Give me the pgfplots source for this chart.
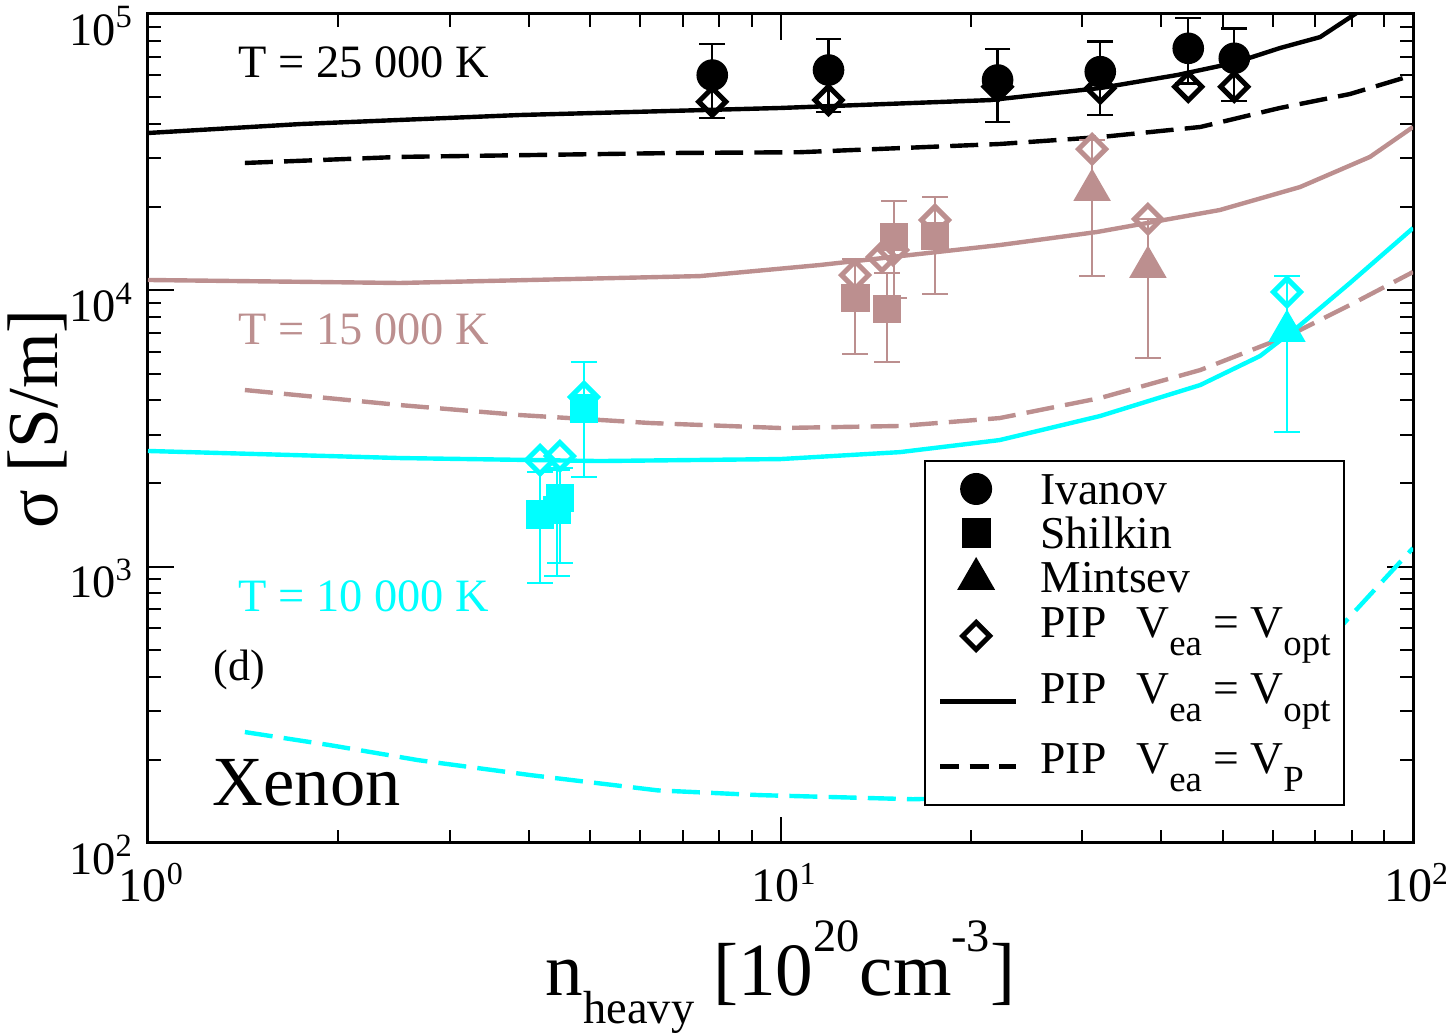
\documentclass[border=0pt]{standalone}
\usepackage{pgfplots}
\pgfplotsset{compat=1.18}
\usepackage{fontspec}
\setmainfont{Liberation Serif}
\definecolor{rbrown}{RGB}{188,143,143}
\definecolor{cy}{RGB}{0,255,255}
\newcommand\lsub[1]{\raisebox{-4.5pt}{\fontsize{9.2}{9.2}\selectfont #1}}
\pgfplotsset{
  mlegA/.style={legend image code/.code={\draw[##1] plot coordinates {(9pt,4pt)};}},
  mlegT/.style={legend image code/.code={\draw[##1] plot coordinates {(9pt,3.5pt)};}},
  mlegB/.style={legend image code/.code={\draw[##1] plot coordinates {(9pt,0.5pt)};}},
  llegB/.style={legend image code/.code={\draw[##1] (0pt,0.5pt) -- (19pt,0.5pt);}},
  llegC/.style={legend image code/.code={\draw[##1] (0pt,1.75pt) -- (19pt,1.75pt);}},
  errb/.style={forget plot, line width=0.6pt, mark=-, mark size=3.2pt, mark options={solid, line width=0.6pt}, unbounded coords=jump}
}
\begin{document}
\begin{tikzpicture}
\begin{axis}[
  scale only axis, width=316.25pt, height=207.25pt,
  xmode=log, ymode=log, xmin=1, xmax=100, ymin=100, ymax=100000,
  xtick={1,10,100},
  xticklabels={10\textsuperscript{0},10\textsuperscript{1},10\textsuperscript{2}},
  ytick={100,1000,10000,100000},
  yticklabels={10\textsuperscript{2},10\textsuperscript{3},10\textsuperscript{4},10\textsuperscript{5}},
  minor xtick={2,3,4,5,6,7,8,9,20,30,40,50,60,70,80,90},
  minor ytick={200,300,400,500,600,700,800,900,2000,3000,4000,5000,6000,7000,8000,9000,20000,30000,40000,50000,60000,70000,80000,90000},
  major tick length=6.5pt, minor tick length=3.3pt,
  every tick/.style={line width=0.5pt, black},
  axis line style={line width=0.75pt},
  yticklabel style={font=\fontsize{11.6}{13}\selectfont, yshift=-3pt},
  xticklabel style={font=\fontsize{12}{13}\selectfont, yshift=-1.5pt, xshift=1pt},
  xlabel={n\raisebox{-7.2pt}{\fontsize{11.6}{11}\selectfont heavy} [10\raisebox{11pt}{\fontsize{11.6}{11}\selectfont 20}cm\raisebox{11pt}{\fontsize{11.6}{11}\selectfont -3}]},
  xlabel style={at={(axis description cs:0.5,-0.1834)}, anchor=base, inner sep=0pt, font=\fontsize{18.8}{20}\selectfont},
  ylabel={σ [S/m]},
  ylabel style={at={(axis description cs:-0.0719,0.5115)}, anchor=base, inner sep=0pt, font=\fontsize{17.9}{20}\selectfont},
  legend style={at={(rel axis cs:0.946,0.462)}, anchor=north east, draw=black, line width=0.5pt,
    font=\fontsize{11.4}{13}\selectfont, row sep=0pt, column sep=5.5pt,
    inner xsep=3.3pt, inner ysep=2.5pt, nodes={inner sep=0pt, text depth=0pt}, cells={anchor=base west}},
]
\coordinate (bl) at (rel axis cs:0,0);
\coordinate (tr) at (rel axis cs:1,1);

% ---------- legend images ----------
\addlegendimage{only marks, mark=*, black, mark size=3.75pt, mlegA}
\addlegendentry{\rule{0pt}{8.5pt}Ivanov}
\addlegendimage{only marks, mark=square*, black, mark size=3.4pt, mlegA}
\addlegendentry{\rule{0pt}{11pt}Shilkin}
\addlegendimage{only marks, mark=triangle*, black, mark size=5pt, mlegT}
\addlegendentry{\rule{0pt}{11pt}Mintsev}
\addlegendimage{only marks, mark=square, black, mark size=2.4pt, mark options={rotate=45, fill=white, line width=1.25pt}, mlegB}
\addlegendentry{\rule{0pt}{11.25pt}PIP\hspace{7.5pt}V\lsub{ea} = V\lsub{opt}}
\addlegendimage{black, line width=1.2pt, llegB}
\addlegendentry{\rule{0pt}{13.45pt}PIP\hspace{7.5pt}V\lsub{ea} = V\lsub{opt}}
\addlegendimage{black, line width=1.2pt, dash pattern=on 4.8pt off 2.6pt, llegC}
\addlegendentry{\rule{0pt}{17.5pt}PIP\hspace{7.5pt}V\lsub{ea} = V\lsub{P}}
\addlegendimage{empty legend}
\addlegendentry{\rule{0pt}{5.25pt}}

% ---------- T = 25000 K ----------
\addplot[forget plot, black, line width=1.1pt] table {
1 37100
1.739 39970
3.874 43100
10 45700
21.44 48800
32.1 54000
42.4 60150
52.1 66500
61.6 75300
71.3 82500
81 100000
90 118000
};
\addplot[forget plot, black, line width=1.1pt, dash pattern=on 7pt off 2.8pt] table {
1.423 28900
2.502 30400
6.94 31420
10.7 31600
22.2 33850
32.1 35880
46.1 39000
61.6 45700
79.5 51330
100 60100
};
% ---------- T = 15000 K ----------
\addplot[forget plot, rbrown, line width=1.1pt] table {
1 10900
2.50 10630
7.46 11260
11.55 12350
22.2 14580
31.65 16260
49.5 19530
66.3 23650
85.5 30400
100 39000
};
\addplot[forget plot, rbrown, line width=1.1pt, dash pattern=on 7pt off 2.8pt] table {
1.423 4357
2.50 3845
3.874 3537
6.22 3310
10 3175
15.45 3229
22.2 3449
32.0 4075
46.1 5147
63.9 6888
79.5 8847
100 11650
};
% ---------- T = 10000 K ----------
\addplot[forget plot, cy, line width=1.1pt] table {
1 2622
2.50 2472
5.18 2411
10 2451
15.45 2597
22.2 2871
32.0 3508
46.1 4543
57.3 5784
66.3 7486
79.5 10630
100 16800
};
\addplot[forget plot, cy, line width=1.1pt, dash pattern=on 7pt off 2.8pt] table {
1.423 252
1.94 226
2.673 199.5
4.03 176
6.40 155
9.28 149
16.2 144
22.2 146.6
32.0 166
46.1 217
61.6 343
78.6 641
100 1168
};

% ---------- error bars (low / high ends) ----------
\addplot[errb, black] table {
7.80 42000
7.80 77900
7.80 nan
11.91 44300
11.91 81200
11.91 nan
22.04 40600
22.04 74700
22.04 nan
32.03 43100
32.03 79400
32.03 nan
44.12 56000
44.12 96700
44.12 nan
52.17 48400
52.17 88750
};
\addplot[errb, rbrown] table {
13.12 5882
13.12 12990
13.12 nan
14.74 5502
14.74 11550
14.74 nan
15.12 9380
15.12 21040
15.12 nan
17.55 9695
17.55 21760
17.55 nan
31.09 11260
31.09 34990
31.09 nan
38.1 5689
38.1 18110
};
\addplot[errb, cy] table {
4.167 872
4.167 2200
4.167 nan
4.433 925
4.433 2235
4.433 nan
4.48 1030
4.48 2275
4.48 nan
4.89 2114
4.89 5515
4.89 nan
63.2 3070
63.2 11260
};

% ---------- experimental data ----------
\addplot[forget plot, only marks, mark=*, black, mark size=3.75pt] table {
7.80 60100
11.91 62700
22.04 57700
32.03 61830
44.12 75130
52.17 69140
};
\addplot[forget plot, only marks, mark=square*, rbrown, mark size=3.4pt] table {
13.12 9380
14.74 8560
15.12 15600
17.55 15730
};
\addplot[forget plot, only marks, mark=triangle*, rbrown, mark size=5pt] table {
31.09 23070
38.1 12150
};
\addplot[forget plot, only marks, mark=square*, cy, mark size=3.4pt] table {
4.167 1549
4.433 1604
4.48 1772
4.89 3740
};
\addplot[forget plot, only marks, mark=triangle*, cy, mark size=5pt] table {
63.2 7122
};
% PIP diamonds
\addplot[forget plot, only marks, mark=square, black, mark size=2.4pt, mark options={rotate=45, fill=white, line width=1.25pt}] table {
7.80 48150
11.91 48840
22.04 54560
32.03 53840
44.12 54560
52.17 54560
};
\addplot[forget plot, only marks, mark=square, rbrown, mark size=2.4pt, mark options={rotate=45, fill=white, line width=1.25pt}] table {
13.12 11360
14.47 13200
15.06 13990
17.55 17960
31.09 32450
38.1 18110
};
\addplot[forget plot, only marks, mark=square, cy, mark size=2.4pt, mark options={rotate=45, fill=white, line width=1.25pt}] table {
4.167 2430
4.48 2513
4.89 4109
63.2 9860
};

% ---------- annotations ----------
\node[anchor=base west, inner sep=0pt, font=\fontsize{11.6}{14}\selectfont, black] at (rel axis cs:0.0711,0.9228) {T = 25 000 K};
\node[anchor=base west, inner sep=0pt, font=\fontsize{11.6}{14}\selectfont, text=rbrown] at (rel axis cs:0.0711,0.6019) {T = 15 000 K};
\node[anchor=base west, inner sep=0pt, font=\fontsize{11.6}{14}\selectfont, text=cy] at (rel axis cs:0.0711,0.2787) {T = 10 000 K};
\node[anchor=base west, inner sep=0pt, font=\fontsize{11}{12}\selectfont, black] at (rel axis cs:0.0514,0.1966) {(d)};
\node[anchor=base west, inner sep=0pt, font=\fontsize{17.6}{19}\selectfont, black] at (rel axis cs:0.0506,0.0458) {Xenon};
\end{axis}
\pgfresetboundingbox
\path ([shift={(-37pt,-48.25pt)}]bl) rectangle ([shift={(8.25pt,3.5pt)}]tr);
\end{tikzpicture}
\end{document}
